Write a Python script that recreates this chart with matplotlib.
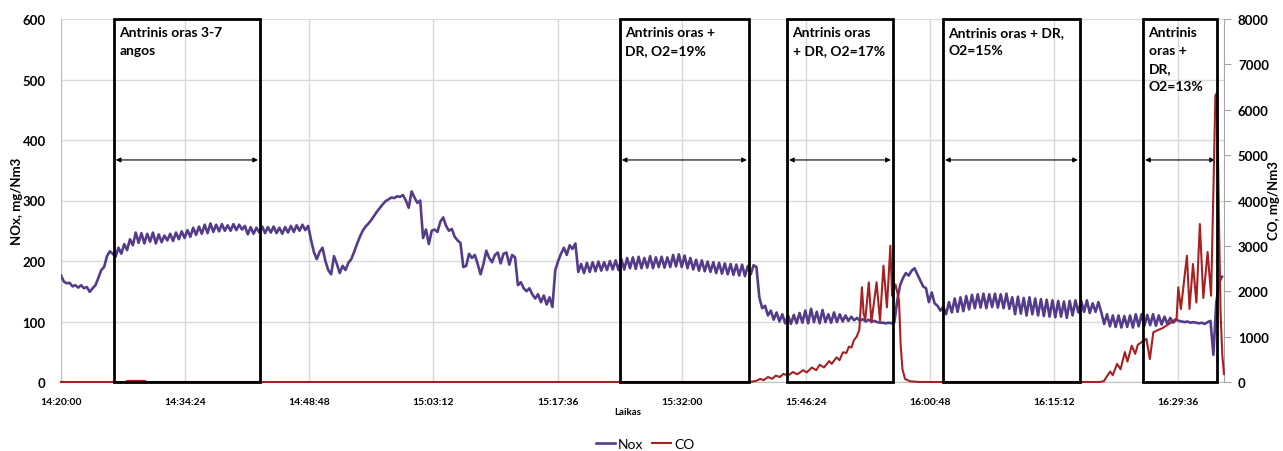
import numpy as np
import pandas as pd
import matplotlib
matplotlib.use("Agg")
import matplotlib.pyplot as plt
from matplotlib.patches import Rectangle

plt.rcParams['font.family'] = ['Lato', 'DejaVu Sans']

# ---------------- data ----------------
# NOx sampled every 20 s starting at 14:20:00 (mg/Nm3)
nox_step_min = 1 / 3
nox = [
    176, 166, 163, 164, 158, 160, 156, 160, 155, 157, 149, 155, 160, 172, 185,
    190, 208, 216, 212, 207, 222, 212, 228, 218, 236, 226, 247, 230, 246, 229,
    245, 232, 247, 229, 244, 231, 242, 234, 245, 233, 247, 236, 249, 238, 251,
    240, 255, 243, 257, 245, 260, 246, 262, 248, 260, 249, 261, 250, 259, 250,
    261, 251, 260, 252, 258, 244, 256, 245, 255, 247, 257, 246, 256, 247, 257,
    246, 255, 245, 256, 247, 258, 248, 259, 250, 260, 251, 258, 235, 215, 203,
    215, 222, 200, 185, 178, 208, 195, 180, 192, 185, 197, 203, 215, 228, 240,
    250, 257, 262, 268, 275, 282, 288, 294, 299, 302, 305, 304, 307, 306, 309,
    300, 288, 315, 305, 296, 300, 238, 252, 228, 250, 252, 248, 265, 272, 258,
    250, 253, 240, 234, 230, 190, 192, 212, 205, 210, 195, 178, 195, 217, 205,
    198, 210, 214, 196, 212, 214, 194, 210, 206, 160, 165, 155, 150, 155, 145,
    138, 145, 132, 143, 128, 140, 124, 185, 200, 212, 222, 210, 226, 220, 229,
    182, 195, 180, 197, 182, 198, 183, 199, 184, 198, 185, 200, 186, 201, 185,
    203, 186, 205, 188, 206, 187, 207, 188, 205, 189, 208, 188, 206, 190, 207,
    189, 206, 190, 210, 191, 211, 190, 209, 188, 205, 186, 202, 184, 201, 183,
    199, 182, 198, 180, 197, 179, 196, 178, 195, 177, 194, 176, 194, 175, 192,
    178, 193, 190, 140, 122, 126, 110, 118, 103, 115, 100, 112, 97, 110, 96,
    111, 97, 114, 98, 118, 97, 121, 99, 116, 97, 119, 99, 112, 98, 115,
    99, 112, 100, 110, 101, 108, 102, 106, 101, 104, 100, 103, 100, 101, 99,
    98, 98, 97, 98, 97, 99, 135, 160, 172, 180, 176, 184, 188, 178, 168,
    158, 155, 132, 148, 130, 126, 118, 124, 112, 132, 115, 138, 116, 140, 117,
    142, 120, 144, 122, 145, 123, 146, 122, 145, 124, 146, 123, 145, 122, 146,
    121, 140, 112, 141, 113, 139, 110, 140, 112, 138, 110, 137, 109, 136, 108,
    135, 107, 134, 108, 133, 106, 134, 110, 135, 115, 134, 116, 135, 114, 130,
    116, 132, 115, 96, 112, 92, 110, 91, 110, 90, 109, 91, 110, 90, 112,
    92, 112, 93, 111, 94, 112, 93, 110, 95, 108, 96, 106, 98, 103, 101,
    100, 99, 100, 98, 99, 98, 97, 98, 96, 99, 101, 45, 130, 165, 174,
]

# CO (mg/Nm3) at time points, minutes after 14:20:00
co_t = [0, 7.5, 7.7, 9.7, 9.9, 80.0, 80.7, 81.1, 81.5, 82.0, 82.5, 82.9, 83.4,
        83.8, 84.3, 84.9, 85.4, 86.1, 86.5, 87.1, 87.6, 88.0, 88.5, 89.1, 89.4,
        89.96, 90.3, 90.7, 91.1, 91.4, 91.7, 91.97, 92.3, 92.6, 92.9, 93.1,
        93.3, 93.7, 94.0, 94.6, 95.0, 95.4, 95.8, 96.2, 96.4, 96.8, 97.2, 97.4,
        97.6, 97.9, 98.5, 99.6, 120.5, 120.98, 121.3, 121.7, 122.0, 122.5,
        122.9, 123.4, 123.7, 124.2, 124.6, 124.9, 125.3, 125.9, 126.3, 126.7,
        127.3, 127.7, 128.2, 128.6, 129.1, 129.4, 129.6, 129.9, 130.6, 130.9,
        131.3, 131.7, 132.1, 132.5, 133.0, 133.4, 133.7, 133.9, 134.1, 134.3,
        134.5, 134.7, 134.9]
co_v = [0, 0, 25, 25, 0, 0, 30, 70, 40, 110, 70, 140, 110,
        180, 140, 220, 170, 260, 210, 320, 260, 380, 320, 460, 400,
        544, 480, 654, 640, 780, 760, 920, 1000, 1150, 2087, 1500,
        1388, 2197, 1314, 2197, 1350, 2564, 1646, 3004, 1900, 2150, 1800, 800,
        286, 66, 15, 0, 0, 20, 120, 230, 150, 400,
        280, 660, 450, 800, 620, 820, 874, 950, 507, 1095,
        1150, 1180, 1241, 1290, 1360, 1400, 2087, 1609, 2784, 1609,
        2600, 1750, 3482, 1850, 2865, 1902, 4474, 6310, 6384, 3745,
        1543, 600, 176]

tick_labels = ['14:20:00', '14:34:24', '14:48:48', '15:03:12', '15:17:36',
               '15:32:00', '15:46:24', '16:00:48', '16:15:12', '16:29:36']

# experiment periods (minutes after 14:20:00)
box_start = [6.1, 64.8, 84.2, 102.3, 125.5]
box_end = [23.1, 79.8, 96.5, 118.2, 134.1]
box_labels = ['Antrinis oras 3-7\nangos',
              'Antrinis oras +\nDR, O2=19%',
              'Antrinis oras\n+ DR, O2=17%',
              'Antrinis oras + DR,\nO2=15%',
              'Antrinis\noras +\nDR,\nO2=13%']

# ---------------- plot ----------------
W, H = 1283, 452
fig = plt.figure(figsize=(W / 100, H / 100), dpi=100)
ax = fig.add_axes([61 / W, 1 - 383 / H, (1224 - 61) / W, (383 - 20) / H])
ax2 = ax.twinx()

nox_color = '#553C8B'
co_color = '#A52222'
grid_color = '#D9D9D9'

t_nox = np.arange(len(nox)) * nox_step_min
ax.plot(t_nox, nox, color=nox_color, lw=1.9, zorder=3, label='Nox')
ax2.plot(co_t, co_v, color=co_color, lw=1.5, zorder=3, label='CO',
         clip_on=False)

t0 = pd.Timedelta(tick_labels[0])
tick_pos = [(pd.Timedelta(s) - t0).total_seconds() / 60 for s in tick_labels]

ax.set_xlim(0, 134.9)
ax.set_ylim(0, 600)
ax2.set_ylim(0, 8000)
ax.set_xticks(tick_pos)
ax.set_xticklabels(tick_labels, fontsize=7.5, fontweight='bold')
ax.set_yticks(np.arange(0, 601, 100))
ax2.set_yticks(np.arange(0, 8001, 1000))
for lbl in ax.get_yticklabels() + ax2.get_yticklabels():
    lbl.set_fontsize(9.5)
    lbl.set_fontweight('bold')

ax.grid(True, color=grid_color, lw=1.0, zorder=0)
ax.set_axisbelow(True)
ax.tick_params(axis='x', length=0, pad=11)
ax.tick_params(axis='y', length=0, pad=11)
ax2.tick_params(axis='y', length=5, width=0.8, color='#A6A6A6', pad=5)

for s in ['top', 'right']:
    ax.spines[s].set_visible(False)
for s in ['top', 'left', 'bottom']:
    ax2.spines[s].set_visible(False)
ax.spines['left'].set_color('#BFBFBF')
ax.spines['bottom'].set_color('#BFBFBF')
ax2.spines['right'].set_color('#A6A6A6')

fig.text(17 / W, 1 - 201 / H, 'NOx, mg/Nm3', fontsize=9.5,
         fontweight='bold', rotation=90, ha='center', va='center')
fig.text(1274 / W, 1 - 201 / H, 'CO, mg/Nm3', fontsize=9.5,
         fontweight='bold', rotation=90, ha='center', va='center')
fig.text(628 / W, 1 - 413 / H, 'Laikas', fontsize=7, fontweight='bold',
         ha='center', va='center')

# experiment boxes, labels and arrows (drawn on top)
arrow_y = 367
for xs, xe, lab in zip(box_start, box_end, box_labels):
    ax2.add_patch(Rectangle((xs, 0), xe - xs, 8000, fill=False,
                            edgecolor='black', lw=2.0, zorder=6,
                            clip_on=False))
    ax.annotate('', xy=(xe - 0.25, arrow_y), xytext=(xs + 0.25, arrow_y),
                arrowprops=dict(arrowstyle='<|-|>', color='black', lw=0.8,
                                mutation_scale=7, shrinkA=0, shrinkB=0),
                zorder=5)
    ax2.text(xs + 0.65, 7850, lab, fontsize=10, fontweight='bold',
             ha='left', va='top', linespacing=1.6, zorder=7)

h1, l1 = ax.get_legend_handles_labels()
h2, l2 = ax2.get_legend_handles_labels()
fig.legend(h1 + h2, l1 + l2, loc='center', bbox_to_anchor=(645 / W, 1 - 445 / H),
           ncol=2, frameon=False, fontsize=10, handlelength=1.4,
           handletextpad=0.2, columnspacing=0.6)

fig.savefig('out.png', dpi=100)
